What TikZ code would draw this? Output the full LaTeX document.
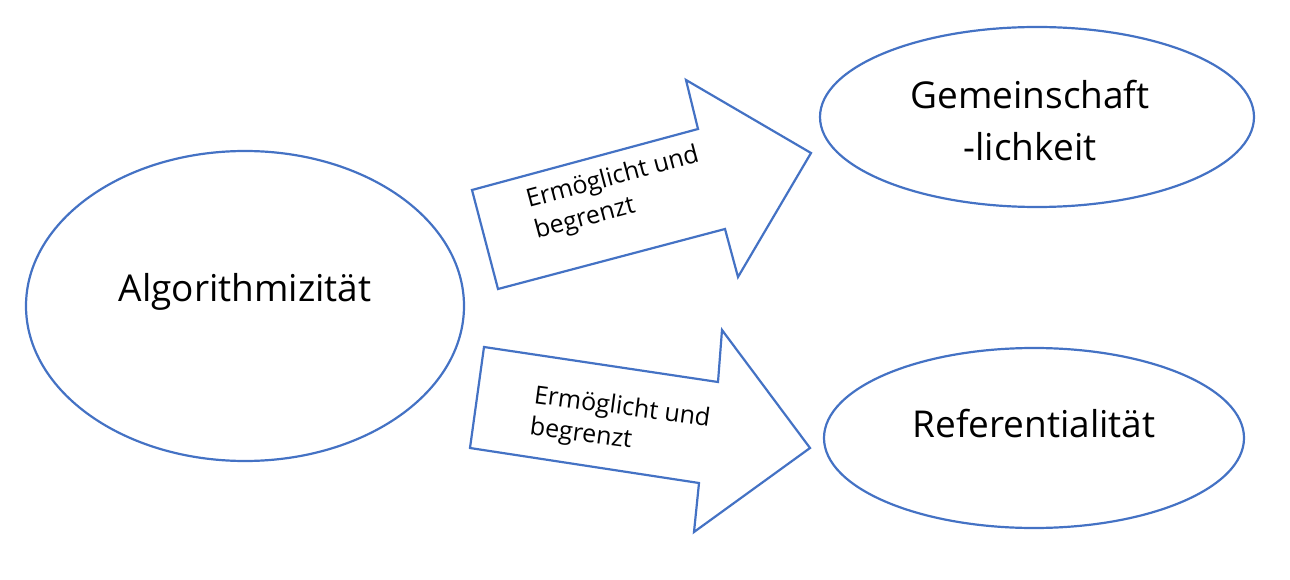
\documentclass[tikz,border=0pt]{standalone}
\usepackage{fontspec}
\setmainfont{Open Sans}
\usetikzlibrary{shapes.geometric}
\definecolor{bl}{HTML}{4472C4}
\begin{document}
\begin{tikzpicture}[x=1pt,y=1pt,
  ell/.style={ellipse,draw=bl,line width=2.2pt,inner sep=0pt},
  blk/.style={draw=bl,line width=2.2pt,line join=miter},
  big/.style={font=\fontsize{37}{52}\selectfont,align=center},
  small/.style={font=\fontsize{25}{32}\selectfont,align=left,inner sep=0pt}]
\useasboundingbox (0,0) rectangle (1290,579);
\node[ell,minimum width=438pt,minimum height=310pt] (alg) at (245,273) {};
\node[big] (algt) at (245,287) {Algorithmizität};
\node[ell,minimum width=434pt,minimum height=180pt] (gem) at (1037,462) {};
\node[big] (gemt) at (1030,458) {Gemeinschaft\\-lichkeit};
\node[ell,minimum width=420pt,minimum height=180pt] (ref) at (1034,141) {};
\node[big] (reft) at (1034,155) {Referentialität};
\draw[blk] (472,389) -- (698,450) -- (686,499) -- (811,426) -- (738,302) -- (725,350) -- (498,290) -- cycle;
\draw[blk] (484,232) -- (718,197) -- (722,249) -- (810,131) -- (694,47) -- (699,96) -- (470,131) -- cycle;
\node[small,rotate=15] (t1) at (617,385) {Ermöglicht und\\begrenzt};
\node[small,rotate=-7.5] (t2) at (620,155) {Ermöglicht und\\begrenzt};
\end{tikzpicture}
\end{document}
